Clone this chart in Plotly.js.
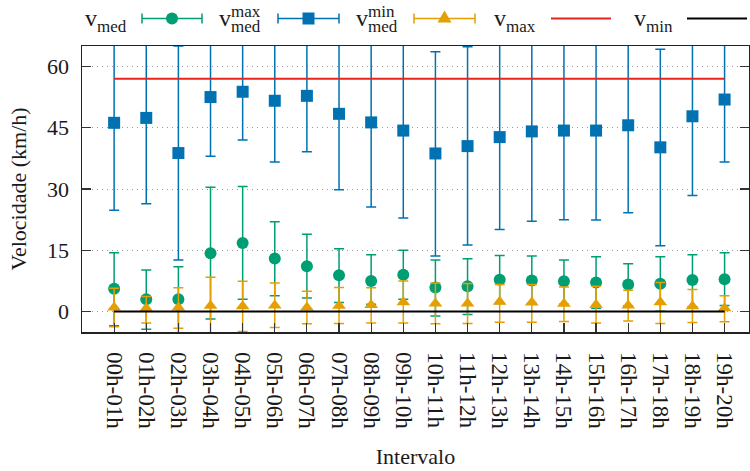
<!DOCTYPE html>
<html>
<head>
<meta charset="utf-8">
<script src="https://cdn.plot.ly/plotly-3.0.1.min.js"></script>
<style>html,body{margin:0;padding:0;background:#fff;}#chart{width:750px;height:471px;}</style>
</head>
<body>
<div id="chart"></div>
<script>
// ---- data ----
const categories = ['00h-01h','01h-02h','02h-03h','03h-04h','04h-05h','05h-06h','06h-07h','07h-08h','08h-09h','09h-10h',
                    '10h-11h','11h-12h','12h-13h','13h-14h','14h-15h','15h-16h','16h-17h','17h-18h','18h-19h','19h-20h'];
// v_med (green circles)
const vMed     = [5.6, 3.0, 3.0, 14.3, 16.8, 13.0, 11.1, 8.9, 7.5, 9.0, 5.9, 6.2, 7.8, 7.6, 7.4, 7.1, 6.6, 6.8, 7.7, 7.9];
const vMedLow  = [-3.5, -4.3, -6.0, -1.8, 3.0, 3.9, 3.3, 2.2, 1.8, 3.0, -1.1, -0.7, 2.0, 2.0, 1.8, 0.8, 1.4, 0.1, 1.2, 1.5];
const vMedHigh = [14.4, 10.2, 11.0, 30.4, 30.6, 22.0, 18.9, 15.4, 13.9, 15.0, 12.6, 12.9, 13.7, 13.6, 12.6, 13.4, 11.7, 13.4, 13.9, 14.4];
// v_med^max (blue squares)
const vMedMax     = [46.2, 47.4, 38.8, 52.5, 53.8, 51.6, 52.8, 48.4, 46.3, 44.3, 38.7, 40.5, 42.7, 44.1, 44.3, 44.3, 45.6, 40.2, 47.8, 51.9];
const vMedMaxLow  = [24.8, 26.4, 12.6, 38.0, 42.0, 36.6, 39.1, 29.8, 25.6, 22.9, 13.6, 16.3, 20.1, 22.1, 22.5, 22.4, 24.2, 16.1, 28.4, 36.6];
const vMedMaxHigh = [68.0, 68.0, 65.0, 68.0, 68.0, 68.0, 68.0, 68.0, 68.0, 68.0, 63.6, 64.8, 68.0, 68.0, 68.0, 68.0, 68.0, 64.2, 68.0, 68.0];
// v_med^min (orange triangles)
const vMedMin     = [1.0, 0.8, 1.0, 1.4, 1.3, 1.5, 1.0, 1.4, 1.6, 2.3, 2.0, 2.0, 2.4, 2.2, 1.9, 1.7, 1.5, 2.3, 1.3, 0.8];
const vMedMinLow  = [-3.7, -2.8, -4.1, -6.0, -4.9, -3.9, -3.0, -2.9, -2.8, -2.8, -3.0, -2.9, -2.6, -2.6, -2.4, -2.8, -2.3, -2.9, -2.7, -2.5];
const vMedMinHigh = [5.7, 3.7, 5.8, 8.4, 7.4, 7.0, 5.0, 5.9, 5.8, 7.5, 7.0, 6.9, 6.6, 6.6, 6.0, 6.2, 5.2, 7.1, 5.4, 3.9];
// v_max and v_min reference lines
const vMaxLine = [57, 57, 57, 57, 57, 57, 57, 57, 57, 57, 57, 57, 57, 57, 57, 57, 57, 57, 57, 57];
const vMinLine = [0, 0, 0, 0, 0, 0, 0, 0, 0, 0, 0, 0, 0, 0, 0, 0, 0, 0, 0, 0];
const yTicks = [0, 15, 30, 45, 60];

// ---- styles ----
const GREEN = '#009e73', BLUE = '#0072b2', ORANGE = '#e69f00', RED = '#e8251c', BLACK = '#000000';
const FONT = 'Liberation Serif, DejaVu Serif, serif';
const TXT = '#1a1a1a';

function errTrace(name, y, lo, hi, color, symbol, size) {
  return {
    type: 'scatter', mode: 'markers', name: name, x: categories, y: y,
    marker: {color: color, symbol: symbol, size: size, line: {width: 0}},
    error_y: {type: 'data', symmetric: false,
              array: hi.map((h, i) => h - y[i]),
              arrayminus: lo.map((l, i) => y[i] - l),
              color: color, thickness: 1.5, width: 5},
    hoverinfo: 'skip'
  };
}

const traces = [
  errTrace('v_med', vMed, vMedLow, vMedHigh, GREEN, 'circle', 12),
  errTrace('v_med^max', vMedMax, vMedMaxLow, vMedMaxHigh, BLUE, 'square', 12),
  errTrace('v_med^min', vMedMin, vMedMinLow, vMedMinHigh, ORANGE, 'triangle-up', 12),
  {type: 'scatter', mode: 'lines', name: 'v_max', x: categories, y: vMaxLine, line: {color: RED, width: 2}},
  {type: 'scatter', mode: 'lines', name: 'v_min', x: categories, y: vMinLine, line: {color: BLACK, width: 2}}
];

// ---- legend (drawn in pixel space above the plot) ----
const L = 82, R = 1, T = 46, B = 139, W = 750, H = 471;
const PW = W - L - R, PH = H - T - B;
const X = px => (px - L) / PW;
const Y = py => (H - B - py) / PH;

const legendY = 18.5;
const samples = [
  {x0: 142, x1: 202, color: GREEN, kind: 'err', marker: 'circle'},
  {x0: 278, x1: 339, color: BLUE, kind: 'err', marker: 'square'},
  {x0: 414, x1: 475, color: ORANGE, kind: 'err', marker: 'triangle'},
  {x0: 551, x1: 611, color: RED, kind: 'line'},
  {x0: 687, x1: 747, color: BLACK, kind: 'line'}
];
const shapes = [];
samples.forEach(s => {
  const lw = s.kind === 'err' ? 1.5 : 2;
  shapes.push({type: 'line', xref: 'paper', yref: 'paper', x0: X(s.x0), x1: X(s.x1), y0: Y(legendY), y1: Y(legendY), line: {color: s.color, width: lw}});
  if (s.kind === 'err') {
    [s.x0, s.x1].forEach(cx => shapes.push({type: 'line', xref: 'paper', yref: 'paper', x0: X(cx), x1: X(cx), y0: Y(legendY - 5), y1: Y(legendY + 5), line: {color: s.color, width: 1.5}}));
    const cx = (s.x0 + s.x1) / 2;
    if (s.marker === 'circle') {
      shapes.push({type: 'circle', xref: 'paper', yref: 'paper', x0: X(cx - 6), x1: X(cx + 6), y0: Y(legendY - 6), y1: Y(legendY + 6), fillcolor: s.color, line: {width: 0}});
    } else if (s.marker === 'square') {
      shapes.push({type: 'rect', xref: 'paper', yref: 'paper', x0: X(cx - 6), x1: X(cx + 6), y0: Y(legendY - 6), y1: Y(legendY + 6), fillcolor: s.color, line: {width: 0}});
    } else {
      const p = `M ${X(cx - 7)} ${Y(legendY + 4)} L ${X(cx + 7)} ${Y(legendY + 4)} L ${X(cx)} ${Y(legendY - 8)} Z`;
      shapes.push({type: 'path', xref: 'paper', yref: 'paper', path: p, fillcolor: s.color, line: {width: 0}});
    }
  }
});

const legendLabels = [
  {sub: 'med', x: 85, sup: null},
  {sub: 'med', x: 219, sup: 'max'},
  {sub: 'med', x: 356, sup: 'min'},
  {sub: 'max', x: 494, sup: null},
  {sub: 'min', x: 634, sup: null}
];
const annotations = [];
function txt(text, xPx, baselinePx, size) {
  // place text so that its baseline lands near baselinePx
  annotations.push({xref: 'paper', yref: 'paper', x: X(xPx), y: Y(baselinePx + 0.216 * size + 1),
                    xanchor: 'left', yanchor: 'bottom', showarrow: false, borderpad: 0,
                    text: text, font: {family: FONT, size: size, color: TXT}});
}
legendLabels.forEach(l => {
  txt('v', l.x - 1, 26, 24);
  txt(l.sub, l.x + 11, 32, 17);
  if (l.sup) txt(l.sup, l.x + 11, 17.5, 17);
});

const layout = {
  width: W, height: H,
  margin: {l: L, r: R, t: T, b: B, pad: 0},
  paper_bgcolor: '#ffffff', plot_bgcolor: '#ffffff',
  showlegend: false,
  font: {family: FONT, size: 22, color: TXT},
  xaxis: {
    type: 'category', categoryorder: 'array', categoryarray: categories,
    range: [-1, 19.76],
    tickangle: 90, ticks: 'inside', ticklen: 9, tickwidth: 1.2, tickcolor: '#333',
    showline: true, linecolor: '#222', linewidth: 1.5, mirror: true,
    showgrid: false, zeroline: false,
    tickfont: {family: FONT, size: 23, color: TXT},
    ticklabelstandoff: 14,
    title: {text: 'Intervalo', font: {family: FONT, size: 22, color: TXT}, standoff: 20}
  },
  yaxis: {
    range: [-5, 65], tickvals: yTicks, ticktext: yTicks.map(String),
    ticks: 'inside', ticklen: 9, tickwidth: 1.2, tickcolor: '#333',
    showline: true, linecolor: '#222', linewidth: 1.5, mirror: 'ticks',
    showgrid: true, gridcolor: '#9a9a9a', griddash: '1px,4px', gridwidth: 1,
    zeroline: false,
    tickfont: {family: FONT, size: 22, color: TXT},
    ticklabelstandoff: 7,
    title: {text: 'Velocidade (km/h)', font: {family: FONT, size: 22, color: TXT}, standoff: 14}
  },
  shapes: shapes,
  annotations: annotations
};

Plotly.newPlot('chart', traces, layout, {staticPlot: true, displayModeBar: false});
</script>
</body>
</html>
